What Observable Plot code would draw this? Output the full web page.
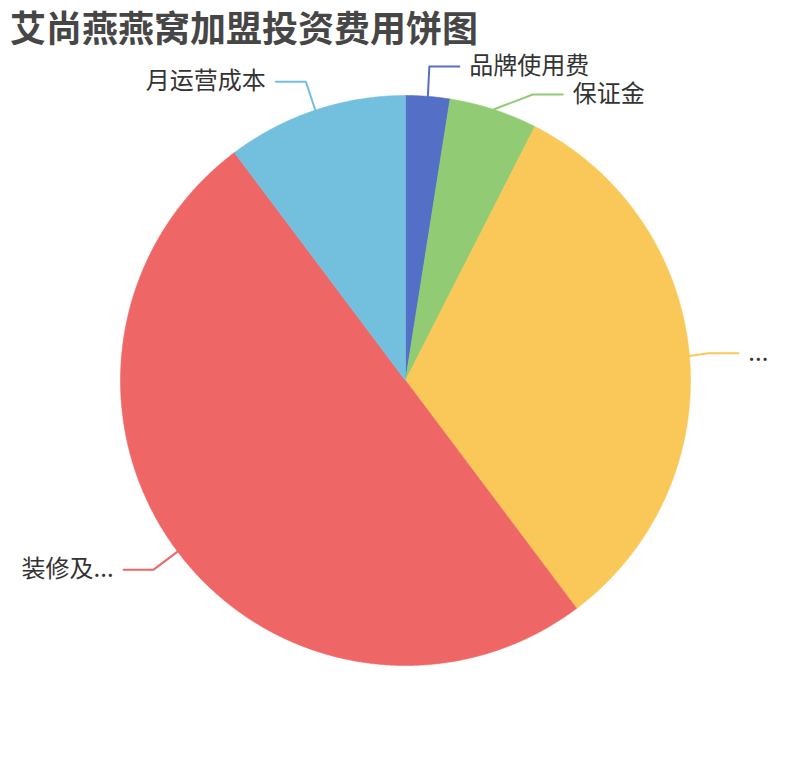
<!DOCTYPE html>
<html>
<head>
<meta charset="utf-8">
<script src="https://cdn.jsdelivr.net/npm/d3@7"></script>
<script src="https://cdn.jsdelivr.net/npm/@observablehq/plot@0.6"></script>
<style>
  html, body { margin: 0; padding: 0; background: #fff; overflow: hidden; }
  #title { height: 50px; line-height: 46px; padding-left: 10px; font: bold 36px "Noto Sans CJK SC", sans-serif; color: #464646; white-space: nowrap; }
  #chart svg { display: block; }
</style>
</head>
<body>
<div id="title">艾尚燕燕窝加盟投资费用饼图</div>
<div id="chart"></div>
<script>
// ---- data ----
const categories = ["品牌使用费", "保证金", "...", "装修及...", "月运营成本"];
const values = [1, 2, 12.9, 20, 4.1];
const colors = ["#5470c6", "#91cc75", "#fac858", "#ee6666", "#73c0de"];

// ---- layout ----
const W = 810, H = 710;
const cx = 405, cy = 330, R = 285;      // pixel centre / radius of the pie
const len1 = 30, len2 = 30, gap = 10, minSep = 28;
const u = px => px / R;                  // pixels -> data units

const arcs = d3.pie().sort(null).value(d => d.value)(
  categories.map((name, i) => ({name, value: values[i]}))
);

// slice polygons
const slicePts = [];
for (const a of arcs) {
  const name = a.data.name;
  slicePts.push({name, X: 0, Y: 0});
  const n = Math.max(4, Math.ceil((a.endAngle - a.startAngle) / 0.005));
  for (let k = 0; k <= n; k++) {
    const t = a.startAngle + (a.endAngle - a.startAngle) * k / n;
    slicePts.push({name, X: Math.sin(t), Y: Math.cos(t)});
  }
  slicePts.push({name, X: 0, Y: 0});
}

// labels with simple overlap avoidance per side
const r2 = 1 + u(len1);
const rA = r2 - u(11);   // horizontal semi-axis used when a side is re-laid out
const labels = arcs.map(a => {
  const m = (a.startAngle + a.endAngle) / 2;
  return {
    name: a.data.name,
    side: Math.sin(m) >= 0 ? "right" : "left",
    ax: Math.sin(m), ay: Math.cos(m),
    ex: Math.sin(m) * r2, ey: Math.cos(m) * r2
  };
});
for (const side of ["right", "left"]) {
  const items = labels.filter(l => l.side === side).sort((a, b) => b.ey - a.ey);
  let shifted = false;
  for (let i = 1; i < items.length; i++) {
    const prev = items[i - 1], cur = items[i];
    if (prev.ey - cur.ey < u(minSep)) {
      cur.ey = prev.ey - u(minSep);
      shifted = true;
    }
  }
  if (shifted) {
    for (const it of items) {
      const dx = rA * Math.sqrt(Math.max(0, 1 - (it.ey * it.ey) / (r2 * r2)));
      it.ex = side === "right" ? dx : -dx;
    }
  }
}
const linePts = [];
for (const l of labels) {
  const s = l.side === "right" ? 1 : -1;
  l.hx = l.ex + s * u(len2);
  l.tx = l.hx + s * u(gap);
  linePts.push({name: l.name, X: l.ax, Y: l.ay});
  linePts.push({name: l.name, X: l.ex, Y: l.ey});
  linePts.push({name: l.name, X: l.hx, Y: l.ey});
}

const font = '"Noto Sans CJK SC", sans-serif';
const chart = Plot.plot({
  width: W, height: H,
  margin: 0,
  x: {domain: [-cx / R, (W - cx) / R], range: [0, W], axis: null},
  y: {domain: [-(H - cy) / R, cy / R], range: [H, 0], axis: null},
  color: {domain: categories, range: colors},
  style: {background: "#fff"},
  marks: [
    Plot.line(slicePts, {x: "X", y: "Y", z: "name", fill: "name", stroke: "name", strokeWidth: 0.6, curve: "linear"}),
    Plot.line(linePts, {x: "X", y: "Y", z: "name", stroke: "name", strokeWidth: 2}),
    Plot.text(labels.filter(l => l.side === "right"), {x: "tx", y: "ey", text: "name", textAnchor: "start", fontSize: 24, fontFamily: font, fill: "#333"}),
    Plot.text(labels.filter(l => l.side === "left"), {x: "tx", y: "ey", text: "name", textAnchor: "end", fontSize: 24, fontFamily: font, fill: "#333"})
  ]
});
document.getElementById("chart").appendChild(chart);
</script>
</body>
</html>
